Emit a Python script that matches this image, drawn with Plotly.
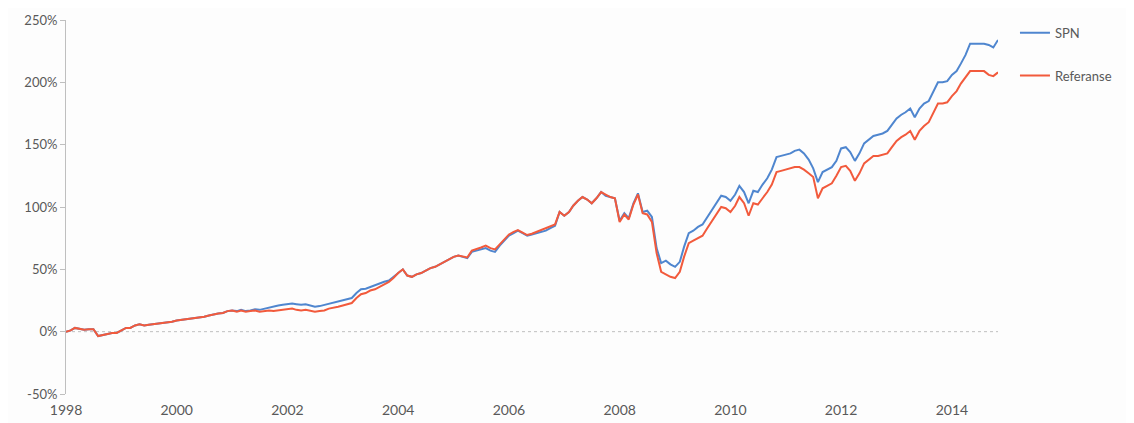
import plotly.graph_objects as go
import pandas as pd

start_month = "1998-01-01"
n_months = 203

spn = [
    # 1998
    0, 1, 3, 2.5, 1.5, 2, 2, -3.5, -2.5, -1.5, -1, -1,
    # 1999
    1, 3, 3, 5, 6, 5, 5.5, 6, 6, 6.5, 7, 8,
    # 2000
    9, 9.5, 10, 10, 11, 11, 12, 13, 14, 14.5, 15, 16.5,
    # 2001
    17, 16.5, 17.5, 16.5, 17, 18, 17.5, 18.5, 19.5, 20, 21, 21.5,
    # 2002
    22, 22.5, 22, 21.5, 22, 21, 20, 20.5, 21.5, 22.5, 23, 24,
    # 2003
    25, 26, 27, 31, 34, 34.5, 36, 37, 38.5, 40, 41, 44,
    # 2004
    47, 50, 45, 44, 46, 47, 49, 51, 52, 54, 56, 58,
    # 2005
    60, 61, 60, 59, 64, 65, 66, 67, 65, 64, 69, 73,
    # 2006
    77, 79, 81, 79, 77, 78, 79, 80, 81, 83, 85, 96,
    # 2007
    93, 96, 101, 105, 108, 106, 103, 107, 112, 109, 108, 107,
    # 2008
    89, 95, 91, 103, 111, 96, 97, 92, 67, 55, 57, 54,
    # 2009
    52, 56, 68, 79, 81, 84, 86, 92, 98, 103, 109, 108,
    # 2010
    105, 110, 117, 112, 103, 113, 112, 118, 123, 130, 140, 141,
    # 2011
    142, 143, 145, 146, 143, 138, 131, 120, 128, 130, 132, 137,
    # 2012
    147, 148, 144, 137, 143, 151, 154, 157, 158, 159, 161, 166,
    # 2013
    171, 174, 176, 179, 172, 179, 183, 185, 192, 200, 200, 201,
    # 2014
    206, 209, 215, 222, 231, 231, 231, 231, 230, 228, 234,
]

referanse = [
    # 1998
    0, 1, 3, 2.5, 1.5, 2, 2, -3.5, -2.5, -1.5, -1, -1,
    # 1999
    1, 3, 3, 5, 6, 5, 5.5, 6, 6, 6.5, 7, 8,
    # 2000
    9, 9.5, 10, 10, 11, 11, 12, 13, 14, 14.5, 15, 16.5,
    # 2001
    17, 16, 17, 16, 16.5, 17, 16, 16.5, 17, 16.5, 17, 17.5,
    # 2002
    18, 18.5, 17.5, 17, 17.5, 16.5, 16, 16.5, 17, 18.5, 19, 20,
    # 2003
    21, 22, 23, 27, 30, 31, 33, 34, 36, 38, 40, 43,
    # 2004
    47, 50, 45, 44, 46, 47, 49, 51, 52, 54, 56, 58,
    # 2005
    60, 61, 60, 59.5, 65, 66, 67.5, 69, 67, 66, 70, 74,
    # 2006
    78, 80, 81.5, 79.5, 77.5, 78.5, 80, 81, 82.5, 84, 86, 96,
    # 2007
    93, 96, 101, 105, 108, 106, 103, 107, 112, 110, 108, 107,
    # 2008
    88, 94, 90, 102, 110, 95, 94, 88, 63, 48, 46, 44,
    # 2009
    43, 48, 60, 71, 73, 75, 77, 83, 89, 94, 100, 99,
    # 2010
    96, 101, 108, 103, 93, 103, 102, 107, 112, 118, 128, 129,
    # 2011
    130, 131, 132, 132, 130, 127, 124, 107, 115, 117, 119, 125,
    # 2012
    132, 133, 129, 121, 127, 135, 138, 141, 141, 142, 143, 148,
    # 2013
    153, 156, 158, 161, 154, 161, 165, 168, 175, 183, 183, 184,
    # 2014
    189, 193, 199, 204, 209, 209, 209, 209, 206, 205, 208,
]

tick_years = [1998, 2000, 2002, 2004, 2006, 2008, 2010, 2012, 2014]
y_ticks = [-50, 0, 50, 100, 150, 200, 250]

dates = pd.date_range(start_month, periods=n_months, freq="MS")

font_family = "Lato, 'Open Sans', sans-serif"
text_color = "#595959"

fig = go.Figure()
fig.add_trace(go.Scatter(
    x=dates, y=spn, mode="lines", name="SPN",
    line=dict(color="#4f86cf", width=2), legendgroup="a",
))
fig.add_trace(go.Scatter(
    x=dates, y=referanse, mode="lines", name="Referanse",
    line=dict(color="#f25a3c", width=2), legendgroup="b",
))

# dotted horizontal axis at 0
fig.add_shape(type="line", xref="paper", yref="y", x0=0, x1=1, y0=0, y1=0,
              line=dict(color="#bfbfbf", width=1, dash="dot"), layer="below")

fig.update_layout(
    width=1126, height=415,
    margin=dict(l=58, r=136, t=12, b=29, autoexpand=False),
    paper_bgcolor="#fdfdfd", plot_bgcolor="#fdfdfd",
    font=dict(family=font_family, size=12, color=text_color),
    showlegend=True,
    legend=dict(x=1.0182, xanchor="left", y=1.006, yanchor="top",
                font=dict(size=13, color=text_color),
                tracegroupgap=23, bgcolor="rgba(0,0,0,0)"),
    xaxis=dict(
        range=[dates[0], dates[-1]],
        tickvals=[pd.Timestamp(f"{y}-01-01") for y in tick_years],
        ticktext=[str(y) for y in tick_years],
        showgrid=False, zeroline=False, showline=False, ticks="",
        tickfont=dict(size=14, color=text_color),
        ticklabelstandoff=6,
        automargin=False,
    ),
    yaxis=dict(
        range=[-50, 250],
        tickvals=y_ticks,
        ticktext=[f"{v}%" for v in y_ticks],
        showgrid=False, zeroline=False,
        showline=True, linecolor="#bfbfbf", linewidth=1,
        ticks="outside", ticklen=5, tickcolor="#bfbfbf",
        tickfont=dict(size=13, color=text_color),
        automargin=False,
    ),
)

fig.write_html("out.html")
